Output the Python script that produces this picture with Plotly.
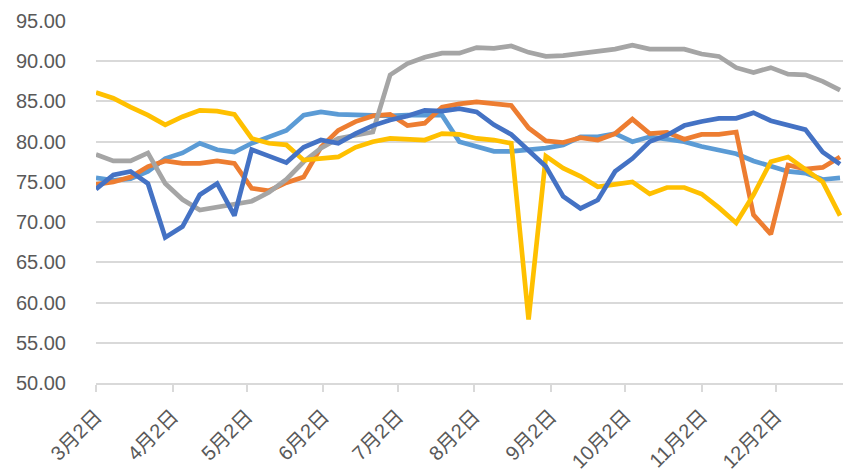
import plotly.graph_objects as go

dates = ["2020-03-02", "2020-03-09", "2020-03-16", "2020-03-23", "2020-03-30",
         "2020-04-06", "2020-04-13", "2020-04-20", "2020-04-27", "2020-05-04",
         "2020-05-11", "2020-05-18", "2020-05-25", "2020-06-01", "2020-06-08",
         "2020-06-15", "2020-06-22", "2020-06-29", "2020-07-06", "2020-07-13",
         "2020-07-20", "2020-07-27", "2020-08-03", "2020-08-10", "2020-08-17",
         "2020-08-24", "2020-08-31", "2020-09-07", "2020-09-14", "2020-09-21",
         "2020-09-28", "2020-10-05", "2020-10-12", "2020-10-19", "2020-10-26",
         "2020-11-02", "2020-11-09", "2020-11-16", "2020-11-23", "2020-11-30",
         "2020-12-07", "2020-12-14", "2020-12-21", "2020-12-28"]

light_blue = [75.5, 75.2, 75.4, 76.3, 77.9, 78.6, 79.8, 79.0, 78.7, 79.8,
              80.6, 81.4, 83.3, 83.7, 83.4, 83.3, 83.2, 83.2, 83.3, 83.3,
              83.3, 80.0, 79.4, 78.8, 78.8, 79.0, 79.2, 79.6, 80.6, 80.6,
              81.0, 80.0, 80.6, 80.3, 80.0, 79.4, 79.0, 78.5, 77.6, 76.9,
              76.3, 76.1, 75.3, 75.5]

orange = [74.7, 75.0, 75.6, 76.9, 77.6, 77.3, 77.3, 77.6, 77.3, 74.2,
          73.9, 74.9, 75.6, 79.3, 81.4, 82.5, 83.2, 83.4, 82.0, 82.3,
          84.3, 84.7, 84.95, 84.75, 84.5, 81.7, 80.1, 79.9, 80.5, 80.2,
          81.0, 82.8, 81.0, 81.15, 80.3, 80.9, 80.9, 81.2, 70.9, 68.5,
          77.1, 76.6, 76.8, 78.1]

gray = [78.4, 77.6, 77.6, 78.6, 74.8, 72.8, 71.5, 71.9, 72.2, 72.6,
        73.7, 75.3, 77.5, 79.2, 80.4, 80.8, 81.2, 88.3, 89.7, 90.5,
        91.0, 91.0, 91.7, 91.6, 91.9, 91.1, 90.6, 90.7, 91.0, 91.2,
        91.5, 92.0, 91.5, 91.5, 91.5, 90.9, 90.6, 89.2, 88.6, 89.2,
        88.4, 88.3, 87.5, 86.4]

yellow = [86.1, 85.4, 84.3, 83.3, 82.1, 83.1, 83.9, 83.8, 83.4, 80.4,
          79.8, 79.6, 77.7, 77.9, 78.1, 79.3, 80.0, 80.4, 80.3, 80.2,
          81.0, 80.9, 80.4, 80.2, 79.8, 57.9, 78.2, 76.7, 75.7, 74.4,
          74.7, 75.0, 73.5, 74.3, 74.3, 73.5, 71.8, 69.9, 73.4, 77.5,
          78.1, 76.5, 75.0, 70.8]

dark_blue = [74.1, 75.85, 76.3, 74.8, 68.1, 69.45, 73.4, 74.8, 70.8, 79.0,
             78.2, 77.4, 79.3, 80.2, 79.8, 81.0, 82.0, 82.7, 83.2, 83.9,
             83.8, 84.1, 83.7, 82.1, 80.9, 78.9, 76.9, 73.2, 71.7, 72.75,
             76.3, 77.9, 80.0, 80.8, 82.0, 82.5, 82.9, 82.9, 83.6, 82.6,
             82.0, 81.5, 78.7, 77.2]

tick_dates = ["2020-03-02", "2020-04-02", "2020-05-02", "2020-06-02", "2020-07-02",
              "2020-08-02", "2020-09-02", "2020-10-02", "2020-11-02", "2020-12-02"]
tick_labels = ["3月2日", "4月2日", "5月2日", "6月2日", "7月2日",
               "8月2日", "9月2日", "10月2日", "11月2日", "12月2日"]
y_ticks = [50, 55, 60, 65, 70, 75, 80, 85, 90, 95]

series = [
    (light_blue, "#5B9BD5"),
    (orange, "#ED7D31"),
    (gray, "#A5A5A5"),
    (yellow, "#FFC000"),
    (dark_blue, "#4472C4"),
]

fig = go.Figure()
for vals, col in series:
    fig.add_trace(go.Scatter(x=dates, y=vals, mode="lines",
                             line=dict(color=col, width=4.7),
                             showlegend=False, hoverinfo="x+y"))

font_family = "Liberation Sans, Arial, Noto Sans CJK SC, sans-serif"

fig.update_layout(
    width=843, height=472,
    margin=dict(l=96, r=0, t=21, b=89, autoexpand=False),
    paper_bgcolor="white", plot_bgcolor="white",
    font=dict(family=font_family, color="#595959", size=20),
    xaxis=dict(
        type="date",
        automargin=False,
        range=["2020-03-02", "2020-12-29 05:00"],
        tickvals=tick_dates, ticktext=tick_labels,
        tickangle=-45,
        showgrid=False,
        showline=True, linecolor="#D9D9D9", linewidth=1.5,
        ticks="outside", ticklen=7, tickcolor="#D9D9D9", tickwidth=1.5,
        ticklabelstandoff=5,
        tickfont=dict(size=20, color="#595959", family=font_family),
        zeroline=False,
    ),
    yaxis=dict(
        automargin=False,
        range=[50, 95],
        tickvals=y_ticks,
        ticktext=[f"{v:.2f}" for v in y_ticks],
        showgrid=True, gridcolor="#D9D9D9", gridwidth=1.5,
        showline=False, zeroline=False,
        ticks="", ticklabelstandoff=29,
        tickfont=dict(size=20, color="#595959", family=font_family),
    ),
)

fig.write_html("out.html",
               config={"displayModeBar": False},
               post_script="document.body.style.margin='0px';document.body.style.overflow='hidden';")
